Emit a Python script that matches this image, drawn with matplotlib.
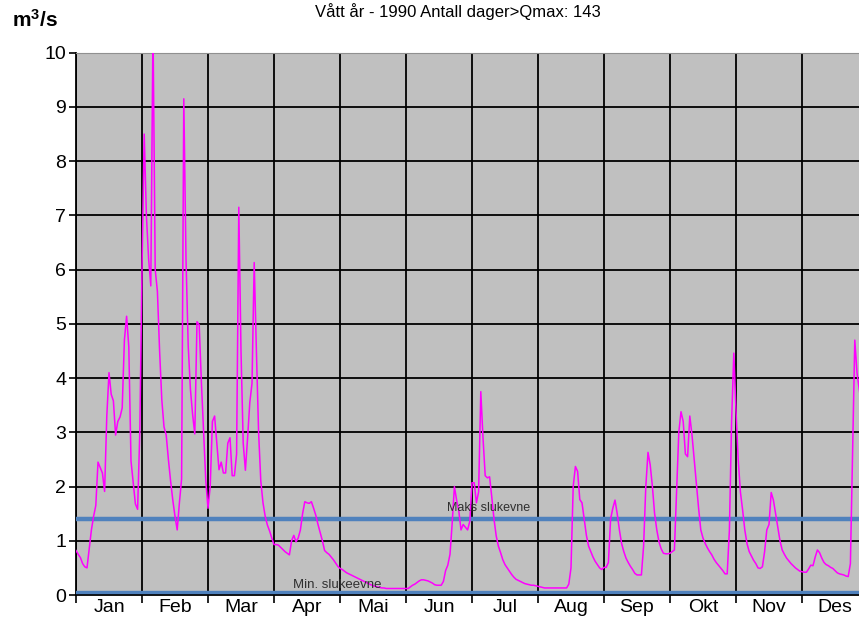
import numpy as np
import matplotlib
matplotlib.use("Agg")
import matplotlib.pyplot as plt

plt.rcParams['font.family'] = ['Liberation Sans', 'DejaVu Sans']
plt.rcParams['mathtext.fontset'] = 'custom'
plt.rcParams['mathtext.rm'] = 'Liberation Sans'
plt.rcParams['mathtext.bf'] = 'Liberation Sans:bold'

# daily flow (m3/s) in 30-day blocks (one per month label)
jan = [0.82, 0.75, 0.69, 0.58, 0.52, 0.50, 0.85, 1.2, 1.45, 1.65,
       2.45, 2.35, 2.25, 1.91, 3.3, 4.1, 3.7, 3.58, 2.95, 3.2,
       3.28, 3.45, 4.7, 5.14, 4.58, 2.47, 2.08, 1.68, 1.58, 3.0]
feb = [6.0, 8.5, 7.0, 6.2, 5.7, 10.5, 6.0, 5.6, 4.5, 3.6,
       3.1, 2.95, 2.5, 2.1, 1.75, 1.45, 1.2, 1.7, 2.14, 9.15,
       6.2, 4.6, 3.8, 3.33, 2.97, 5.04, 4.98, 3.92, 3.0, 2.1]
mar = [1.6, 2.0, 3.2, 3.3, 2.8, 2.31, 2.45, 2.25, 2.25, 2.8,
       2.9, 2.2, 2.2, 2.6, 7.15, 4.5, 2.8, 2.3, 2.9, 3.55,
       3.9, 6.13, 4.5, 3.0, 2.1, 1.7, 1.45, 1.29, 1.18, 1.05]
apr = [0.93, 0.93, 0.92, 0.88, 0.84, 0.8, 0.77, 0.74, 1.0, 1.1,
       0.98, 1.05, 1.2, 1.5, 1.72, 1.7, 1.69, 1.72, 1.6, 1.47,
       1.3, 1.15, 1.0, 0.82, 0.78, 0.75, 0.7, 0.65, 0.59, 0.53]
mai = [0.49, 0.47, 0.44, 0.41, 0.39, 0.37, 0.35, 0.33, 0.31, 0.29,
       0.27, 0.25, 0.23, 0.21, 0.19, 0.17, 0.16, 0.15, 0.14, 0.13,
       0.13, 0.12, 0.12, 0.12, 0.12, 0.12, 0.12, 0.12, 0.12, 0.12]
jun = [0.12, 0.12, 0.15, 0.18, 0.2, 0.23, 0.26, 0.28, 0.28, 0.27,
       0.26, 0.24, 0.22, 0.19, 0.18, 0.18, 0.18, 0.25, 0.45, 0.55,
       0.75, 1.33, 2.0, 1.75, 1.55, 1.2, 1.3, 1.25, 1.2, 1.36]
jul = [2.07, 2.07, 1.7, 1.9, 3.75, 2.9, 2.2, 2.16, 2.18, 1.8,
       1.4, 1.09, 0.9, 0.78, 0.65, 0.56, 0.5, 0.44, 0.38, 0.33,
       0.29, 0.27, 0.25, 0.23, 0.21, 0.2, 0.19, 0.18, 0.18, 0.17]
aug = [0.16, 0.15, 0.14, 0.13, 0.13, 0.13, 0.13, 0.13, 0.13, 0.13,
       0.13, 0.13, 0.13, 0.13, 0.2, 0.5, 2.0, 2.37, 2.28, 1.76,
       1.7, 1.4, 1.1, 0.9, 0.8, 0.7, 0.62, 0.56, 0.5, 0.47]
sep = [0.51, 0.51, 0.6, 1.4, 1.6, 1.75, 1.5, 1.2, 0.95, 0.8,
       0.68, 0.6, 0.53, 0.47, 0.4, 0.37, 0.37, 0.37, 0.9, 2.0,
       2.63, 2.4, 2.0, 1.5, 1.2, 0.98, 0.85, 0.77, 0.76, 0.76]
okt = [0.77, 0.8, 0.83, 1.9, 3.0, 3.38, 3.2, 2.6, 2.55, 3.3,
       2.95, 2.5, 2.06, 1.6, 1.2, 1.05, 0.95, 0.87, 0.8, 0.74,
       0.66, 0.6, 0.55, 0.5, 0.45, 0.39, 0.39, 1.2, 3.2, 4.46]
nov = [3.4, 2.5, 1.9, 1.57, 1.2, 0.95, 0.8, 0.72, 0.64, 0.58,
       0.5, 0.49, 0.52, 0.8, 1.2, 1.3, 1.89, 1.75, 1.5, 1.26,
       1.0, 0.83, 0.75, 0.68, 0.63, 0.58, 0.54, 0.5, 0.47, 0.44]
des = [0.43, 0.42, 0.42, 0.48, 0.55, 0.54, 0.7, 0.83, 0.78, 0.68,
       0.6, 0.56, 0.54, 0.51, 0.49, 0.45, 0.41, 0.39, 0.38, 0.37,
       0.35, 0.34, 0.58, 2.6, 4.7, 4.1, 3.8, 3.5]

months = ['Jan', 'Feb', 'Mar', 'Apr', 'Mai', 'Jun',
          'Jul', 'Aug', 'Sep', 'Okt', 'Nov', 'Des']
maks_slukevne = 1.4
min_slukeevne = 0.06
title = 'Vått år - 1990 Antall dager>Qmax: 143'

flow = np.array(jan + feb + mar + apr + mai + jun + jul + aug + sep + okt + nov + des)
days = np.arange(len(flow))

fig = plt.figure(figsize=(8.59, 6.25), dpi=100)
ax = fig.add_axes([76/859, 30/625, (879-76)/859, (595-52.7)/625])
ax.set_facecolor('#c0c0c0')

ax.axhline(maks_slukevne, color='#4f81bd', lw=3.2, zorder=3)
ax.axhline(min_slukeevne, color='#4f81bd', lw=2.4, zorder=3)
ax.plot(days, flow, color='#ff00ff', lw=1.1, zorder=4)

ax.text(168.5, maks_slukevne + 0.1, 'Maks slukevne', fontsize=9,
        color='#303030', va='bottom', zorder=5)
ax.text(98.5, min_slukeevne + 0.02, 'Min. slukeevne', fontsize=9.5,
        color='#303030', va='bottom', zorder=5)

ax.set_xlim(0, 365)
ax.set_ylim(0, 10)
ax.set_yticks(range(0, 11))
ax.tick_params(axis='y', labelsize=14, length=5, width=1.2, direction='out', pad=2)

ax.set_xticks(np.arange(0, 331, 30))
ax.set_xticklabels([])
ax.set_xticks(np.arange(15, 360, 30), minor=True)
ax.set_xticklabels(months, minor=True, fontsize=14)
ax.tick_params(axis='x', which='major', length=6, width=1.2, direction='out')
ax.tick_params(axis='x', which='minor', length=0, pad=3)

ax.grid(True, which='major', color='black', lw=1.3, zorder=1)
ax.set_axisbelow(True)
for s in ['left', 'bottom']:
    ax.spines[s].set_color('black')
    ax.spines[s].set_linewidth(1.3)
ax.spines['top'].set_color('#909090')
ax.spines['right'].set_visible(False)

fig.text(458/859, 1 - 12/625, title, ha='center', va='center', fontsize=12)
fig.text(12/859, 1 - 20/625, r'$\mathbf{m^3/s}$', ha='left', va='center',
         fontsize=15)

fig.savefig('out.png', dpi=100)
